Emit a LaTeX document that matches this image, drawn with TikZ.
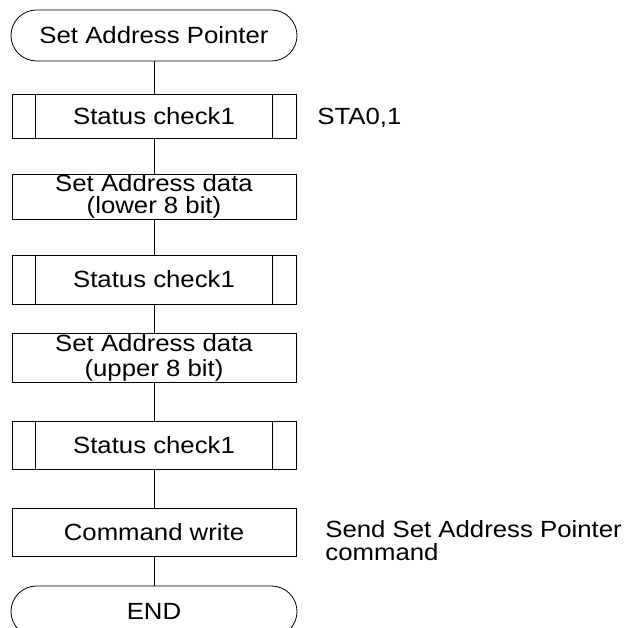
\documentclass[tikz,border=0pt]{standalone}
\usepackage{fontspec}
\setmainfont{Liberation Sans}[FakeStretch=1.1]
\usetikzlibrary{shapes.misc}
\begin{document}
\begin{tikzpicture}[x=1bp,y=-1bp,line width=0.8bp,
  every node/.style={font=\fontsize{23.5}{24}\selectfont, inner sep=0pt},
  box/.style={draw, rectangle, minimum width=284bp, align=center},
  subr/.style={box, path picture={
      \draw ([xshift=23.5bp]path picture bounding box.north west) -- ([xshift=23.5bp]path picture bounding box.south west);
      \draw ([xshift=-23.5bp]path picture bounding box.north east) -- ([xshift=-23.5bp]path picture bounding box.south east);}},
  term/.style={draw, rounded rectangle, minimum width=286bp, minimum height=51bp},
  note/.style={anchor=base west, align=left}]
\clip (0,0) rectangle (632,628);
\fill[white] (0,0) rectangle (632,628);
\node[term] (start) at (154,35.5) {Set Address Pointer};
\node[subr, minimum height=44bp] (s1) at (154,116) {Status check1};
\node[box, minimum height=45bp, font=\fontsize{23.5}{22.5}\selectfont] (lo) at (154,196.5) {Set Address data\\(lower 8 bit)};
\node[subr, minimum height=49bp] (s2) at (154,279.5) {Status check1};
\node[box, minimum height=49bp, font=\fontsize{23.5}{25}\selectfont] (up) at (154,357.5) {Set Address data\\(upper 8 bit)};
\node[subr, minimum height=48bp] (s3) at (154,445) {Status check1};
\node[box, minimum height=48bp] (cmd) at (154,532) {Command write};
\node[term] (end) at (154,611.5) {END};
\draw (start.south) -- (s1.north);
\draw (s1.south) -- (lo.north);
\draw (lo.south) -- (s2.north);
\draw (s2.south) -- (up.north);
\draw (up.south) -- (s3.north);
\draw (s3.south) -- (cmd.north);
\draw (cmd.south) -- (end.north);
\node[note] (n1) at (317,125) {STA0,1};
\node[note, font=\fontsize{23.5}{23}\selectfont] (n2) at (325,560) {Send Set Address Pointer\\command};
\end{tikzpicture}
\end{document}
